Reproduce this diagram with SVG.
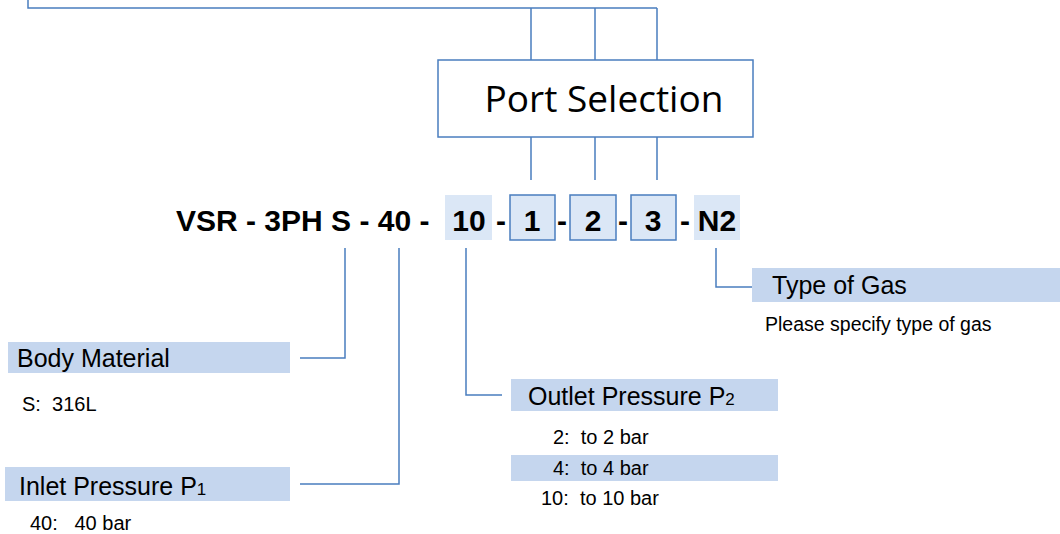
<svg xmlns="http://www.w3.org/2000/svg" width="1060" height="534" viewBox="0 0 1060 534">
<style>
.ln{fill:none;stroke:#4a7ebf;stroke-width:1.5}
.lbl{fill:#c5d6ee}
.cb{fill:#dbe7f6}
.cbb{fill:#dbe7f6;stroke:#4a7ebf;stroke-width:1.5}
.t{font-family:"Liberation Sans",Arial,sans-serif;fill:#000;white-space:pre}
.h{font-size:25px}
.s{font-size:20px}
.sub{font-size:17px}
.code{font-family:"Liberation Sans",Arial,sans-serif;font-weight:bold;font-size:30px;fill:#000}
</style>
<rect width="1060" height="534" fill="#fff"/>
<g id="connectors">
<path class="ln" d="M28,0 V8 H657 M531,8 V60 M595,8 V60 M657,8 V60"/>
<path class="ln" d="M531,137 V180 M595,137 V180 M657,137 V180"/>
<path class="ln" d="M345,248 V358 H300"/>
<path class="ln" d="M399,248 V484 H300"/>
<path class="ln" d="M466,248 V395 H502"/>
<path class="ln" d="M716,248 V287 H752"/>
</g>
<g id="port-selection">
<rect x="438" y="60" width="315" height="77" fill="#fff" stroke="#4a7ebf" stroke-width="1.5"/>
<text x="604" y="112" text-anchor="middle" font-family="Open Sans,sans-serif" font-size="37" fill="#000">Port Selection</text>
</g>
<g id="code">
<rect class="cb" x="445" y="195" width="47" height="45"/>
<rect class="cbb" x="510" y="195" width="45" height="45"/>
<rect class="cbb" x="570" y="195" width="46" height="45"/>
<rect class="cbb" x="631" y="195" width="45" height="45"/>
<rect class="cb" x="694" y="195" width="46" height="45"/>
<text class="code" x="176" y="231" xml:space="preserve">VSR - 3PH S - 40 -</text>
<text class="code" x="469" y="231" text-anchor="middle">10</text>
<text class="code" x="501" y="231" text-anchor="middle">-</text>
<text class="code" x="532" y="231" text-anchor="middle">1</text>
<text class="code" x="562" y="231" text-anchor="middle">-</text>
<text class="code" x="593" y="231" text-anchor="middle">2</text>
<text class="code" x="623" y="231" text-anchor="middle">-</text>
<text class="code" x="653" y="231" text-anchor="middle">3</text>
<text class="code" x="685" y="231" text-anchor="middle">-</text>
<text class="code" x="717" y="231" text-anchor="middle">N2</text>
</g>
<g id="body-material">
<rect class="lbl" x="8" y="342" width="282" height="31"/>
<text class="t h" x="17" y="367">Body Material</text>
<text class="t s" x="22" y="411" xml:space="preserve">S:  316L</text>
</g>
<g id="inlet-pressure">
<rect class="lbl" x="5" y="467" width="285" height="34"/>
<text class="t h" x="19" y="495">Inlet Pressure P<tspan class="sub">1</tspan></text>
<text class="t s" x="30" y="530" xml:space="preserve">40:   40 bar</text>
</g>
<g id="outlet-pressure">
<rect class="lbl" x="511" y="379" width="267" height="32"/>
<text class="t h" x="528" y="405">Outlet Pressure P<tspan class="sub">2</tspan></text>
<text class="t s" x="553" y="444" xml:space="preserve">2:  to 2 bar</text>
<rect class="lbl" x="511" y="455" width="267" height="26"/>
<text class="t s" x="553" y="475" xml:space="preserve">4:  to 4 bar</text>
<text class="t s" x="541" y="505" xml:space="preserve">10:  to 10 bar</text>
</g>
<g id="type-of-gas">
<rect class="lbl" x="752" y="268" width="308" height="34"/>
<text class="t h" x="772" y="294">Type of Gas</text>
<text class="t" x="765" y="331" font-size="19.5">Please specify type of gas</text>
</g>
</svg>
